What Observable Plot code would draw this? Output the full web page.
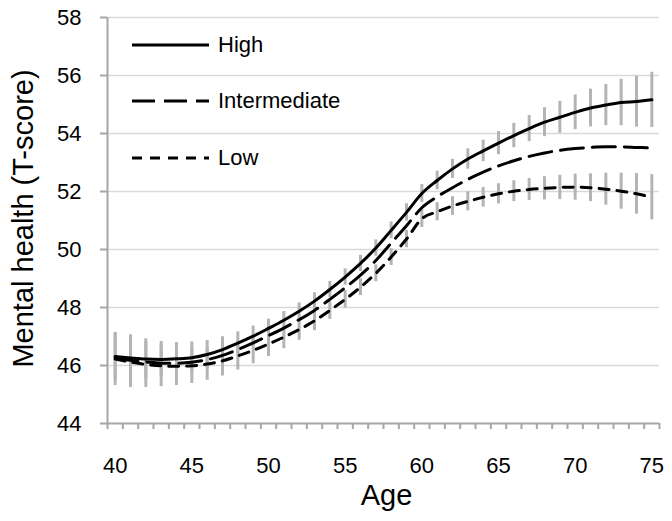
<!DOCTYPE html>
<html>
<head>
<meta charset="utf-8">
<script src="https://cdn.jsdelivr.net/npm/d3@7"></script>
<script src="https://cdn.jsdelivr.net/npm/@observablehq/plot@0.6"></script>
<style>
  html, body { margin: 0; padding: 0; background: #fff; }
  #wrap { position: relative; width: 672px; height: 521px; font-family: Arial, "Liberation Sans", sans-serif; }
  .lg { position: absolute; left: 132px; height: 30px; display: flex; align-items: center; font-size: 22px; color: #000; }
  .lg svg { display: block; }
  .lg span { margin-left: 9px; }
</style>
</head>
<body>
<div id="wrap"></div>
<script>
// ---- data ----
const ages = d3.range(40, 76); // 40..75
const high = [46.31, 46.26, 46.22, 46.21, 46.23, 46.27, 46.38, 46.55, 46.77, 47.01,
              47.28, 47.56, 47.87, 48.22, 48.62, 49.05, 49.52, 50.05, 50.66, 51.28,
              51.93, 52.38, 52.78, 53.12, 53.40, 53.67, 53.93, 54.17, 54.39, 54.56,
              54.73, 54.88, 54.98, 55.07, 55.10, 55.16];
const intermediate = [46.27, 46.18, 46.12, 46.08, 46.08, 46.11, 46.20, 46.35, 46.55, 46.78,
              47.03, 47.29, 47.58, 47.90, 48.28, 48.68, 49.12, 49.62, 50.22, 50.82,
              51.44, 51.82, 52.13, 52.42, 52.67, 52.88, 53.06, 53.21, 53.33, 53.42,
              53.48, 53.52, 53.54, 53.54, 53.52, 53.50];
const low = [46.22, 46.12, 46.04, 45.99, 45.97, 45.99, 46.05, 46.16, 46.33, 46.52,
              46.74, 46.98, 47.24, 47.54, 47.90, 48.28, 48.70, 49.18, 49.74, 50.36,
              51.06, 51.30, 51.50, 51.66, 51.80, 51.92, 52.01, 52.07, 52.11, 52.14,
              52.15, 52.13, 52.08, 52.01, 51.92, 51.80];
// half-widths of the confidence intervals (grey bars)
const highCI = [0.83, 0.80, 0.70, 0.62, 0.56, 0.54, 0.48, 0.44, 0.39, 0.35,
              0.32, 0.30, 0.29, 0.29, 0.28, 0.28, 0.28, 0.28, 0.29, 0.30,
              0.31, 0.32, 0.33, 0.35, 0.37, 0.40, 0.42, 0.45, 0.50, 0.55,
              0.60, 0.65, 0.71, 0.80, 0.88, 0.95];
const lowCI = [0.91, 0.88, 0.80, 0.72, 0.66, 0.61, 0.56, 0.52, 0.49, 0.46,
              0.43, 0.40, 0.37, 0.34, 0.31, 0.30, 0.29, 0.29, 0.29, 0.30,
              0.30, 0.31, 0.32, 0.33, 0.34, 0.35, 0.36, 0.38, 0.40, 0.42,
              0.45, 0.48, 0.55, 0.62, 0.70, 0.78];
const yTicks = [44, 46, 48, 50, 52, 54, 56, 58];
const xTickLabels = [40, 45, 50, 55, 60, 65, 70, 75];
const seriesNames = ["High", "Intermediate", "Low"];
const xTitle = "Age";
const yTitle = "Mental health (T-score)";

// ---- build tables ----
const rows = ages.map((a, i) => ({age: a, high: high[i], inter: intermediate[i], low: low[i]}));
const bars = [
  ...ages.map((a, i) => ({age: a, lo: high[i] - highCI[i], hi: high[i] + highCI[i]})),
  ...ages.map((a, i) => ({age: a, lo: low[i] - lowCI[i], hi: low[i] + lowCI[i]}))
];
const catBounds = d3.range(ages[0] - 0.5, ages[ages.length - 1] + 1, 1);

const axisGrey = "#a6a6a6";
const dashes = {High: null, Intermediate: "23,9", Low: "10,8"};

const chart = Plot.plot({
  width: 672,
  height: 521,
  marginLeft: 107,
  marginRight: 13,
  marginTop: 17,
  marginBottom: 98,
  style: {fontFamily: 'Arial, "Liberation Sans", sans-serif', fontSize: "22px", color: "#000", background: "#fff"},
  x: {domain: [ages[0] - 0.5, ages[ages.length - 1] + 0.5]},
  y: {domain: [44, 58]},
  marks: [
    Plot.gridY(yTicks.slice(1), {stroke: "#d9d9d9", strokeOpacity: 1, strokeWidth: 1.5}),
    Plot.axisY({ticks: yTicks, tickSize: 7, tickPadding: 19, stroke: axisGrey, strokeWidth: 2, fill: "#000", label: null, fontSize: 22}),
    Plot.axisX({ticks: catBounds, tickSize: 6, tickFormat: () => "", stroke: axisGrey, strokeWidth: 2, label: null}),
    Plot.axisX({ticks: xTickLabels, tickSize: 0, tickPadding: 34, fill: "#000", label: null, fontSize: 22}),
    Plot.ruleY([44], {stroke: axisGrey, strokeWidth: 2}),
    Plot.ruleX([ages[0] - 0.5], {stroke: axisGrey, strokeWidth: 2}),
    Plot.ruleX(bars, {x: "age", y1: "lo", y2: "hi", stroke: "#b4b4b4", strokeWidth: 3}),
    Plot.line(rows, {x: "age", y: "low", stroke: "#000", strokeWidth: 3, strokeDasharray: dashes.Low, curve: "monotone-x"}),
    Plot.line(rows, {x: "age", y: "inter", stroke: "#000", strokeWidth: 3, strokeDasharray: dashes.Intermediate, curve: "monotone-x"}),
    Plot.line(rows, {x: "age", y: "high", stroke: "#000", strokeWidth: 3, curve: "monotone-x"}),
    Plot.text([xTitle], {frameAnchor: "bottom", dx: 3, dy: 81, lineAnchor: "bottom", fontSize: 29, fill: "#000"}),
    Plot.text([yTitle], {frameAnchor: "left", textAnchor: "middle", rotate: -90, dx: -75, dy: -2, lineAnchor: "bottom", fontSize: 29, fill: "#000"})
  ]
});

const wrap = document.getElementById("wrap");
wrap.appendChild(chart);

// ---- legend (inside plot area, top-left) ----
const legendTops = [45, 101, 158];
seriesNames.forEach((name, i) => {
  const row = document.createElement("div");
  row.className = "lg";
  row.style.top = (legendTops[i] - 15) + "px";
  const dash = dashes[name];
  row.innerHTML = `<svg width="77" height="6"><line x1="0" x2="77" y1="3" y2="3" stroke="#000" stroke-width="3" ${dash ? `stroke-dasharray="${dash}"` : ""}/></svg><span>${name}</span>`;
  wrap.appendChild(row);
});
</script>
</body>
</html>
